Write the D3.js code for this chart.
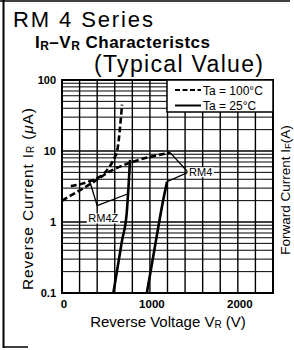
<!DOCTYPE html>
<html><head><meta charset="utf-8">
<script src="https://cdn.jsdelivr.net/npm/d3@7"></script>
<style>
body{margin:0;background:#fff;overflow:hidden}
svg{display:block}
text{font-family:"Liberation Sans",Arial,Helvetica,sans-serif;fill:#000}
</style>
</head><body>
<script>
// ---- data ----
const xTickValues = [0, 1000, 2000];
const xTickLabels = ["0", "1000", "2000"];
const yTickValues = [0.1, 1, 10, 100];
const yTickLabels = ["0.1", "1", "10", "100"];

// [reverse voltage V, reverse current uA]
const rm4z_25  = [[584,0.1],[683,0.55],[736,1.33],[774,7.5]];
const rm4_25   = [[965,0.1],[1050,0.4],[1150,2.0],[1195,3.7]];
const rm4z_100 = [[100,3.2],[240,3.5],[490,5.0],[600,8.2],[626,9.8],[683,45]];
const rm4_100  = [[0,2.0],[300,3.3],[600,5.6],[770,6.8],[1230,9.5]];

const legendLabels = ["Ta = 100°C", "Ta = 25°C"];

// annotation pointers (data coords)
const rm4zPointer = [[320,3.6],[400,1.7],[752,2.5]];
const rm4Pointer  = [[1230,9.5],[1435,5.0],[1195,3.7]];
const rm4zLabelAt = [470,1.12];
const rm4LabelAt  = [1445,5.0];

// ---- layout ----
const W = 294, H = 350;
const svg = d3.select("body").append("svg").attr("width", W).attr("height", H);

const x = d3.scaleLinear().domain([0, 2400]).range([62, 273]);
const y = d3.scaleLog().domain([0.1, 100]).range([293, 80]);

// outer frame pieces
svg.append("line").attr("x1",3.5).attr("x2",3.5).attr("y1",0).attr("y2",348).attr("stroke","#000").attr("stroke-width",2);
svg.append("line").attr("x1",0).attr("x2",290).attr("y1",1).attr("y2",1).attr("stroke","#000").attr("stroke-width",1.5);
svg.append("line").attr("x1",3).attr("x2",28).attr("y1",347).attr("y2",347).attr("stroke","#000").attr("stroke-width",1.5);

// titles
svg.append("text").attr("x",13).attr("y",27).attr("font-size",22)
  .attr("textLength",140).attr("lengthAdjust","spacing").text("RM 4 Series");

const sub = svg.append("text").attr("x",35).attr("y",48).attr("font-size",17).attr("font-weight","bold")
  .attr("textLength",175).attr("lengthAdjust","spacing");
sub.append("tspan").text("I");
sub.append("tspan").attr("font-size",12).attr("dy",2).text("R");
sub.append("tspan").attr("dy",-2).text("–V");
sub.append("tspan").attr("font-size",12).attr("dy",2).text("R");
sub.append("tspan").attr("dy",-2).text(" Characteristcs");

svg.append("text").attr("x",94).attr("y",72).attr("font-size",23)
  .attr("textLength",169).attr("lengthAdjust","spacing").text("(Typical Value)");

// grid
const g = svg.append("g");
g.selectAll(".vg").data(x.ticks(12)).join("line")
  .attr("x1",d=>x(d)).attr("x2",d=>x(d)).attr("y1",y(100)).attr("y2",y(0.1))
  .attr("stroke","#000").attr("stroke-width",1.4);
g.selectAll(".hg").data(y.ticks()).join("line")
  .attr("x1",x(0)).attr("x2",x(2400)).attr("y1",d=>y(d)).attr("y2",d=>y(d))
  .attr("stroke","#000").attr("stroke-width",d=>yTickValues.includes(d)?1.4:1);

// frame
svg.append("rect").attr("x",x(0)).attr("y",y(100)).attr("width",x(2400)-x(0)).attr("height",y(0.1)-y(100))
  .attr("fill","none").attr("stroke","#000").attr("stroke-width",2);

// tick labels
svg.selectAll(".yt").data(yTickValues).join("text")
  .attr("x",56).attr("y",d=>y(d)).attr("dy","0.36em").attr("text-anchor","end")
  .attr("font-size",11).attr("font-weight","bold").text((d,i)=>yTickLabels[i]);
svg.selectAll(".xt").data(xTickValues).join("text")
  .attr("x",d=>x(d)+2).attr("y",308).attr("text-anchor","middle")
  .attr("font-size",11.5).attr("font-weight","bold").text((d,i)=>xTickLabels[i]);

// axis titles
const xl = svg.append("text").attr("x",168).attr("y",327).attr("text-anchor","middle").attr("font-size",15);
xl.append("tspan").text("Reverse Voltage V");
xl.append("tspan").attr("font-size",10).attr("dy",1).text("R");
xl.append("tspan").attr("dy",-1).text(" (V)");

const yl = svg.append("text").attr("transform","translate(33,199) rotate(-90)")
  .attr("text-anchor","middle").attr("font-size",15.5)
  .attr("textLength",182).attr("lengthAdjust","spacing");
yl.append("tspan").text("Reverse Current I");
yl.append("tspan").attr("font-size",10).attr("dy",1).text("R");
yl.append("tspan").attr("dy",-1).text(" (");
yl.append("tspan").attr("font-style","italic").text("μ");
yl.append("tspan").text("A)");

const fl = svg.append("text").attr("transform","translate(290,190) rotate(-90)")
  .attr("text-anchor","middle").attr("font-size",13.5);
fl.append("tspan").text("Forward Current I");
fl.append("tspan").attr("font-size",9.5).attr("dy",1).text("F");
fl.append("tspan").attr("dy",-1).text("(A)");

// curves
const line = d3.line().x(d=>x(d[0])).y(d=>y(d[1])).curve(d3.curveMonotoneX);
const pl = d3.line().x(d=>x(d[0])).y(d=>y(d[1]));
const curves = [
  {d:rm4_100, dash:"6,3"},
  {d:rm4z_100, dash:"6,3"},
  {d:rm4z_25, dash:null},
  {d:rm4_25, dash:null}
];
svg.selectAll(".curve").data(curves).join("path")
  .attr("d",c=>line(c.d)).attr("fill","none").attr("stroke","#000")
  .attr("stroke-width",2.6).attr("stroke-dasharray",c=>c.dash);

// pointers
[rm4zPointer, rm4Pointer].forEach(p=>{
  svg.append("path").attr("d",pl(p)).attr("fill","none").attr("stroke","#000").attr("stroke-width",1.3);
});

// labels with white background
function label(at, txt, anchor){
  const t = svg.append("text").attr("x",x(at[0])).attr("y",y(at[1])).attr("dy","0.36em")
    .attr("text-anchor",anchor).attr("font-size",11).text(txt);
  const b = t.node().getBBox();
  svg.insert("rect", () => t.node()).attr("x",b.x-1.5).attr("y",b.y+1).attr("width",b.width+3).attr("height",b.height-2).attr("fill","#fff");
}
label(rm4zLabelAt, "RM4Z", "middle");
label(rm4LabelAt, "RM4", "start");

// legend
const lg = svg.append("g");
lg.append("rect").attr("x",167).attr("y",80).attr("width",106).attr("height",32)
  .attr("fill","#fff").attr("stroke","#000").attr("stroke-width",1.5);
legendLabels.forEach((t,i)=>{
  const yy = 90 + i*15.5;
  lg.append("line").attr("x1",175).attr("x2",201).attr("y1",yy).attr("y2",yy)
    .attr("stroke","#000").attr("stroke-width",2).attr("stroke-dasharray",i===0?"5,2.5":null);
  lg.append("text").attr("x",203).attr("y",yy+4.5).attr("font-size",12).text(t);
});
</script>
</body></html>
